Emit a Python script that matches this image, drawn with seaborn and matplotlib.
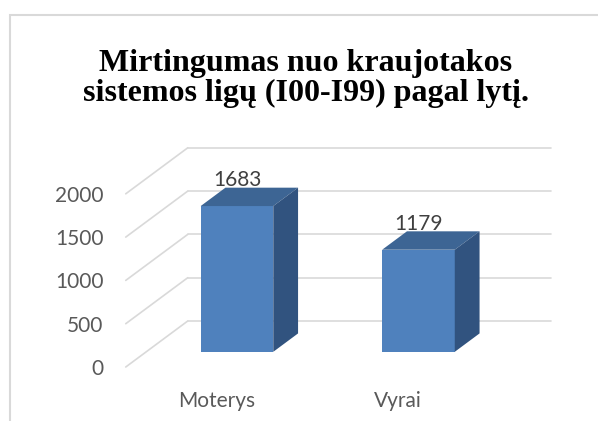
import matplotlib
matplotlib.use("Agg")
import matplotlib.pyplot as plt
from matplotlib.patches import Polygon, Rectangle
from matplotlib.lines import Line2D
import seaborn as sns

categories = ["Moterys", "Vyrai"]
values = [1683, 1179]
y_ticks = [0, 500, 1000, 1500, 2000]
title = "Mirtingumas nuo kraujotakos\nsistemos ligų (I00-I99) pagal lytį."

FRONT = "#4f81bd"
TOP = "#3d6594"
SIDE = "#31537f"
GRID = "#d9d9d9"

W, H = 598, 421
sns.set_theme(style="white")
plt.rcParams["font.family"] = ["Lato", "DejaVu Sans"]

fig = plt.figure(figsize=(W / 100, H / 100), dpi=100)
# axes placed so that the front plane matches the reference
px_x = 181.5   # pixels per category step
px_y = 0.0866  # pixels per value unit
left, right, bottom, top = 112, 560, 367, 140
ax = fig.add_axes([left / W, (H - bottom) / H, (right - left) / W, (bottom - top) / H])

# depth of the 3d box
DX, DY = 62 / px_x, 46 / px_y
f0, f1 = 0.33, 0.40  # bar front offset and bar depth (fractions of full depth)

# wall gridlines
for v in y_ticks:
    ax.add_line(Line2D([-0.5, -0.5 + DX], [v, v + DY], color=GRID, lw=1.2, zorder=0, clip_on=False))
    ax.add_line(Line2D([-0.5 + DX, 1.5 + DX], [v + DY, v + DY], color=GRID, lw=1.2, zorder=0, clip_on=False))

sns.barplot(x=categories, y=values, width=0.4, color=FRONT, saturation=1, ax=ax, zorder=3)
ax.set_xlim((left - 216.5) / px_x, (right - 216.5) / px_x)
ax.set_ylim(0, (bottom - top) / px_y)

for p, val in zip(ax.patches, values):
    p.set_x(p.get_x() + f0 * DX)
    p.set_y(f0 * DY)
    p.set_edgecolor("none")
    p.set_clip_on(False)
    x0, x1 = p.get_x(), p.get_x() + p.get_width()
    y0, y1 = p.get_y(), p.get_y() + p.get_height()
    dx, dy = f1 * DX, f1 * DY
    ax.add_patch(Polygon([[x0, y1], [x1, y1], [x1 + dx, y1 + dy], [x0 + dx, y1 + dy]],
                         closed=True, color=TOP, lw=0, zorder=3, clip_on=False))
    ax.add_patch(Polygon([[x1, y0], [x1 + dx, y0 + dy], [x1 + dx, y1 + dy], [x1, y1]],
                         closed=True, color=SIDE, lw=0, zorder=3, clip_on=False))
    ax.text((x0 + x1) / 2, y1 + dy - 30, f"{val}", ha="center", va="bottom",
            fontsize=15, color="#404040", zorder=4)

ax.set_yticks(y_ticks)
ax.set_xticks([0, 1])
ax.set_xticklabels(categories)
ax.tick_params(axis="y", length=0, pad=6, labelsize=15, labelcolor="#595959")
ax.tick_params(axis="x", length=0, pad=17, labelsize=15, labelcolor="#595959")
ax.set_xlabel("")
ax.set_ylabel("")
sns.despine(ax=ax, left=True, bottom=True)
ax.patch.set_alpha(0)

# chart border
fig.add_artist(Rectangle((10 / W, -0.1), 1.2, (H - 15) / H + 0.1, transform=fig.transFigure,
                         fill=False, edgecolor=GRID, lw=1.5))

fig.text(306 / W, (H - 101) / H, title, ha="center", va="baseline", fontsize=23,
         fontweight="bold", family="Liberation Serif", linespacing=1.05, color="black")

fig.savefig("out.png", dpi=100)
